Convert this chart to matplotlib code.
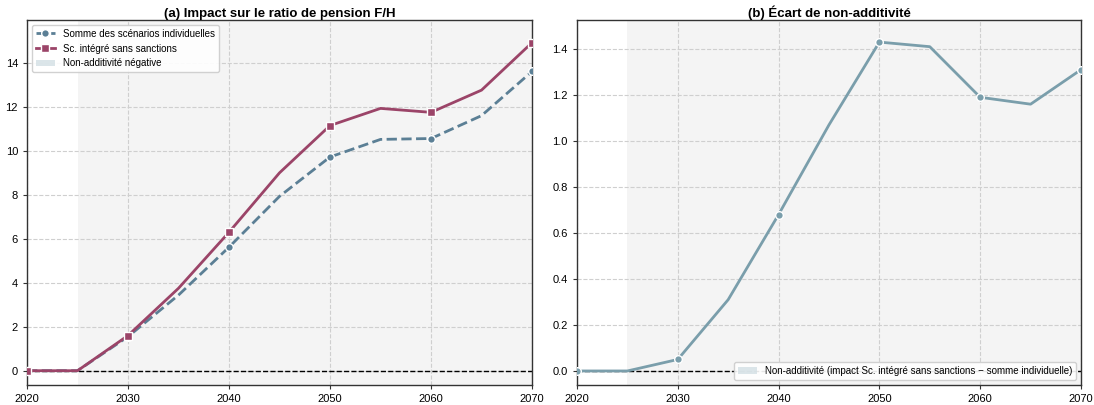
import numpy as np
import matplotlib
matplotlib.use("Agg")
import matplotlib.pyplot as plt

plt.rcParams['font.family'] = ['Liberation Sans', 'DejaVu Sans']

years = [2020, 2025, 2030, 2035, 2040, 2045, 2050, 2055, 2060, 2065, 2070]
somme_individuelle = [0.0, 0.0, 1.55, 3.44, 5.62, 7.93, 9.72, 10.52, 10.56, 11.60, 13.61]
integre_sans_sanctions = [0.0, 0.0, 1.60, 3.75, 6.30, 9.00, 11.15, 11.93, 11.75, 12.76, 14.92]

yrs = np.array(years, dtype=float)
somme = np.array(somme_individuelle)
integre = np.array(integre_sans_sanctions)
ecart = integre - somme

c_somme = '#5b7f95'
c_integre = '#9b4468'
c_ecart = '#7a9eab'
c_fill = '#d3dfe4'
c_shade = '#f4f4f4'

fig = plt.figure(figsize=(10.94, 4.05), dpi=100)
ax1 = fig.add_axes([0.0247, 0.0494, 0.4616, 0.9012])
ax2 = fig.add_axes([0.5274, 0.0494, 0.4607, 0.9012])

for ax in (ax1, ax2):
    ax.axvspan(2025, 2070, color=c_shade, zorder=0.5, lw=0)
    ax.grid(True, linestyle='--', color='#cfcfcf', linewidth=0.8, zorder=1)
    ax.set_axisbelow(True)
    ax.axhline(0, color='black', linestyle='--', linewidth=1.0, zorder=2)
    ax.set_xlim(2020, 2070)
    ax.set_xticks([2020, 2030, 2040, 2050, 2060, 2070])
    ax.tick_params(labelsize=8, length=3, color='#333333')
    for s in ax.spines.values():
        s.set_color('#333333')
        s.set_linewidth(1.0)

# (a) impact on the F/H pension ratio
ax1.plot(yrs, somme, color=c_somme, linestyle='--', linewidth=2, marker='o',
         markersize=5.5, markevery=2, markeredgecolor='white', markeredgewidth=1,
         label='Somme des scénarios individuelles', zorder=3)
ax1.plot(yrs, integre, color=c_integre, linestyle='-', linewidth=2, marker='s',
         markersize=5.5, markevery=2, markeredgecolor='white', markeredgewidth=1,
         label='Sc. intégré sans sanctions', zorder=3)
ax1.fill_between(yrs, somme, integre, where=integre < somme, color=c_fill,
                 alpha=0.8, lw=0, label='Non-additivité négative', zorder=0.2)
ax1.set_ylim(-0.65, 15.95)
ax1.set_yticks([0, 2, 4, 6, 8, 10, 12, 14])
ax1.set_title('(a) Impact sur le ratio de pension F/H', fontsize=9.5,
              fontweight='bold', pad=2)
ax1.legend(loc='upper left', fontsize=7, frameon=True, framealpha=0.9,
           edgecolor='#cccccc', borderpad=0.4, handlelength=2.0)

# (b) non-additivity gap
ax2.fill_between(yrs, 0, ecart, where=ecart >= 0, color=c_fill, alpha=0.8,
                 lw=0, label='Non-additivité (impact Sc. intégré sans sanctions − somme individuelle)',
                 zorder=0.2)
ax2.plot(yrs, ecart, color=c_ecart, linewidth=2, marker='o', markersize=5.5,
         markevery=2, markeredgecolor='white', markeredgewidth=1, zorder=3)
ax2.set_ylim(-0.061, 1.526)
ax2.set_yticks([0.0, 0.2, 0.4, 0.6, 0.8, 1.0, 1.2, 1.4])
ax2.set_title('(b) Écart de non-additivité', fontsize=9.5, fontweight='bold', pad=2)
ax2.legend(loc='lower right', fontsize=7, frameon=True, framealpha=0.9,
           edgecolor='#cccccc', borderpad=0.4, handlelength=2.0)

fig.savefig('out.png', dpi=100)
